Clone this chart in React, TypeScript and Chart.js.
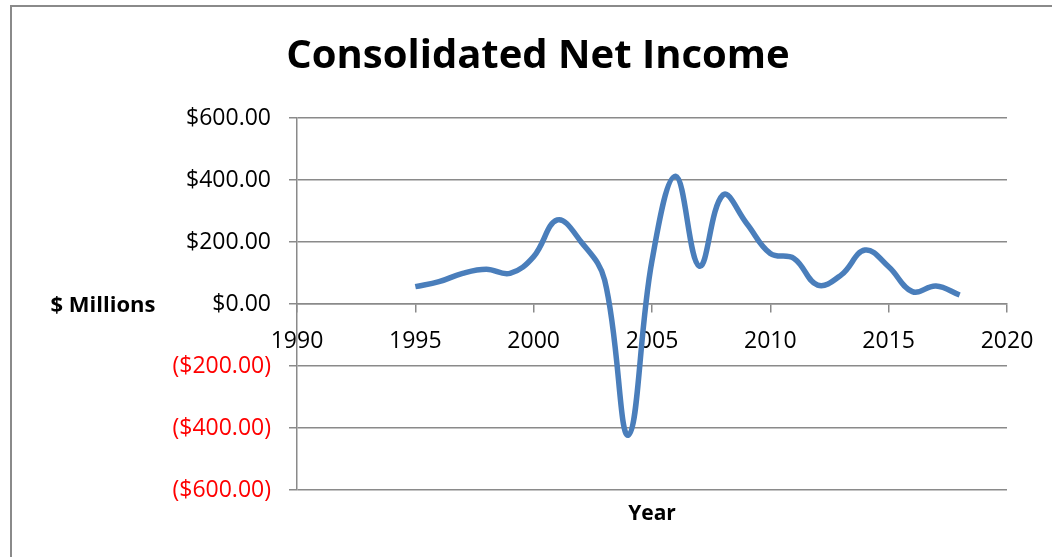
import React, { useEffect, useRef } from "react";
import { Chart, registerables } from "chart.js";

Chart.register(...registerables);

const years = [1995, 1996, 1997, 1998, 1999, 2000, 2001, 2002, 2003, 2004, 2005, 2006, 2007, 2008, 2009, 2010, 2011, 2012, 2013, 2014, 2015, 2016, 2017, 2018];
const netIncome = [56, 72, 99, 112, 99, 153, 271, 201, 77, -423, 140, 412, 122, 352, 260, 163, 147, 61, 94, 174, 120, 40, 58, 29];

const titleText = "Consolidated Net Income";
const yTitle = "$ Millions";
const xTitle = "Year";

const fmt = (v: number) => {
  const s = "$" + Math.abs(v).toFixed(2);
  return v < 0 ? "(" + s + ")" : s;
};

const overlay = {
  id: "overlay",
  beforeDraw(chart: any) {
    const ctx = chart.ctx;
    ctx.save();
    ctx.fillStyle = "#ffffff";
    ctx.fillRect(0, 0, chart.width, chart.height);
    ctx.strokeStyle = "#8a8a8a";
    ctx.lineWidth = 2;
    ctx.beginPath();
    ctx.moveTo(11, chart.height + 5);
    ctx.lineTo(11, 6);
    ctx.lineTo(chart.width + 5, 6);
    ctx.stroke();
    ctx.restore();
  },
  afterDraw(chart: any) {
    const ctx = chart.ctx;
    const y = chart.scales.y;
    const area = chart.chartArea;
    ctx.save();
    ctx.fillStyle = "#000";
    ctx.textAlign = "center";
    ctx.textBaseline = "middle";
    ctx.font = "bold 40px 'Open Sans'";
    ctx.fillText(titleText, 538, 57);
    ctx.font = "bold 22px 'Open Sans'";
    ctx.fillText(yTitle, 103, y.getPixelForValue(0) + 2);
    ctx.font = "bold 21px 'Open Sans'";
    ctx.fillText(xTitle, (area.left + area.right) / 2, 514);
    ctx.restore();
  },
};

export default function App() {
  const ref = useRef<HTMLCanvasElement>(null);
  useEffect(() => {
    document.body.style.margin = "0";
    const chart = new Chart(ref.current!, {
      type: "line",
      data: {
        datasets: [
          {
            data: years.map((yr, i) => ({ x: yr, y: netIncome[i] })),
            borderColor: "#4a7ebb",
            borderWidth: 5.5,
            pointRadius: 0,
            tension: 0.4,
            fill: false,
          },
        ],
      },
      options: {
        animation: false,
        responsive: false,
        layout: { padding: { left: 0, top: 118, right: 45, bottom: 67 } },
        plugins: { legend: { display: false }, title: { display: false }, tooltip: { enabled: false } },
        scales: {
          x: {
            type: "linear",
            position: { y: 0 } as any,
            min: 1990,
            max: 2020,
            ticks: {
              stepSize: 5,
              color: "#000",
              font: { family: "'Open Sans'", size: 23 },
              padding: 16,
              callback: (v: any) => String(v),
              maxRotation: 0,
            },
            grid: { drawOnChartArea: false, drawTicks: true, tickLength: 8, color: "#8a8a8a", lineWidth: 1.5 },
            border: { display: true, color: "#8a8a8a", width: 1.5 },
          },
          y: {
            min: -600,
            max: 600,
            afterFit: (s: any) => {
              s.width = 297;
            },
            ticks: {
              stepSize: 200,
              padding: 18,
              font: { family: "'Open Sans'", size: 23 },
              color: (c: any) => (c.tick && c.tick.value < 0 ? "#ff0000" : "#000000"),
              callback: (v: any) => fmt(Number(v)),
            },
            grid: { color: "#8a8a8a", lineWidth: 1.5, tickLength: 8 },
            border: { display: true, color: "#8a8a8a", width: 1.5 },
          },
        },
      },
      plugins: [overlay],
    });
    return () => chart.destroy();
  }, []);
  return (
    <div style={{ position: "fixed", left: 0, top: 0, width: 1052, height: 557 }}>
      <canvas ref={ref} width={1052} height={557} style={{ display: "block" }} />
    </div>
  );
}
